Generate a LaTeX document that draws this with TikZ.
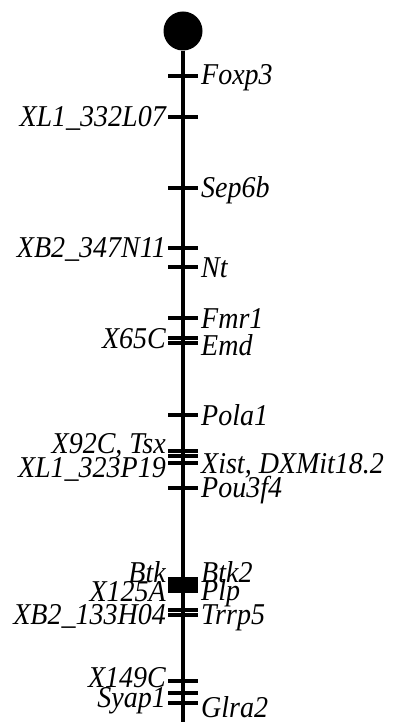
\documentclass[tikz,border=0pt]{standalone}
\usepackage{fontspec}
\usepackage{graphicx}
\setmainfont{Liberation Serif}
\newcommand{\tall}[1]{\scalebox{1}[1.08]{#1}}
\begin{document}
\begin{tikzpicture}[x=1pt,y=-1pt,
  chrom/.style={line width=3.5pt,black},
  tickmark/.style={line width=3.5pt,black},
  lab/.style={inner sep=0pt,font=\fontsize{28}{28}\selectfont\itshape,text=black},
  labR/.style={lab,anchor=base west},
  labL/.style={lab,anchor=base east}]
\useasboundingbox (0,0) rectangle (393,722);
% centromere
\node[circle,fill=black,minimum size=39pt,inner sep=0pt] (cen) at (183,31) {};
\coordinate (bot) at (183,722);
\draw[chrom] (cen.south) -- (bot);
% ticks
\foreach \y in {76,117,188,248,267,318,338,343,415,451,456,463,488,579,583,587,591,610,615,681,693,703}{
  \draw[tickmark] (168,\y) -- (198,\y);
}
% right labels
\node[labR] (foxp3) at (201,85) {\tall{Foxp3}};
\node[labR] (sep6b) at (201,197) {\tall{Sep6b}};
\node[labR] (nt) at (201,277) {\tall{Nt}};
\node[labR] (fmr1) at (201,328) {\tall{Fmr1}};
\node[labR] (emd) at (201,355) {\tall{Emd}};
\node[labR] (pola1) at (201,425) {\tall{Pola1}};
\node[labR] (xist) at (201,473) {\tall{Xist, DXMit18.2}};
\node[labR] (pou) at (201,497) {\tall{Pou3f4}};
\node[labR] (btk2) at (201,582) {\tall{Btk2}};
\node[labR] (plp) at (201,600) {\tall{Plp}};
\node[labR] (trrp5) at (201,624) {\tall{Trrp5}};
\node[labR] (glra2) at (201,717) {\tall{Glra2}};
% left labels
\node[labL] (xl1a) at (166,127) {\tall{XL1\_332L07}};
\node[labL] (xb2a) at (166,257) {\tall{XB2\_347N11}};
\node[labL] (x65c) at (166,348) {\tall{X65C}};
\node[labL] (x92c) at (166,453) {\tall{X92C, Tsx}};
\node[labL] (xl1b) at (166,477) {\tall{XL1\_323P19}};
\node[labL] (btk) at (166,582) {\tall{Btk}};
\node[labL] (x125a) at (166,601) {\tall{X125A}};
\node[labL] (xb2b) at (166,624) {\tall{XB2\_133H04}};
\node[labL] (x149c) at (166,687) {\tall{X149C}};
\node[labL] (syap1) at (166,707) {\tall{Syap1}};
\end{tikzpicture}
\end{document}
